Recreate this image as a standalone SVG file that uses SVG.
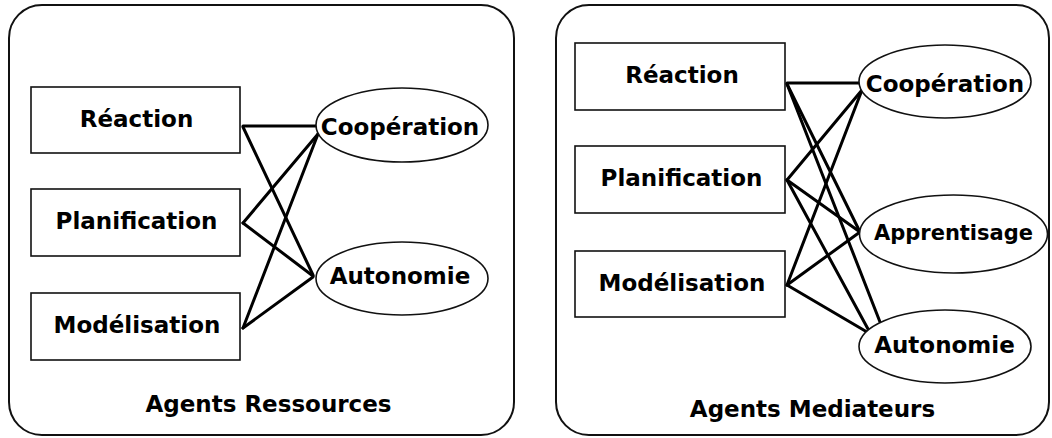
<svg xmlns="http://www.w3.org/2000/svg" width="1052" height="438" viewBox="0 0 1052 438">
<style>
.panel{fill:#fff;stroke:#111;stroke-width:2}
.box{fill:#fff;stroke:#111;stroke-width:1.6}
.ell{fill:#fff;stroke:#111;stroke-width:1.6}
.t{font-family:"DejaVu Sans",sans-serif;font-weight:bold;font-size:23px;fill:#000;text-anchor:middle}
.ts{font-size:21px}
.c line{stroke:#000;stroke-width:3;stroke-linecap:round}
</style>
<rect width="1052" height="438" fill="#fff"/>
<g id="panel-ressources"><rect class="panel" x="9" y="5" width="505" height="430" rx="33" ry="33"/><text class="t" x="268.5" y="412">Agents Ressources</text></g>
<g id="panel-mediateurs"><rect class="panel" x="556" y="5" width="493" height="430" rx="33" ry="33"/><text class="t" x="812.5" y="417">Agents Mediateurs</text></g>
<g class="c" id="connectors">
<line x1="243" y1="126" x2="317" y2="126"/>
<line x1="243" y1="127" x2="313" y2="275"/>
<line x1="243" y1="223" x2="318" y2="134"/>
<line x1="243" y1="223" x2="313" y2="276"/>
<line x1="243" y1="328" x2="318" y2="134"/>
<line x1="243" y1="328" x2="313" y2="277"/>
<line x1="787" y1="83" x2="862" y2="83"/>
<line x1="787" y1="84" x2="860" y2="232"/>
<line x1="787" y1="84" x2="880" y2="322"/>
<line x1="787" y1="180" x2="862" y2="90"/>
<line x1="787" y1="180" x2="860" y2="232"/>
<line x1="787" y1="180" x2="868" y2="329"/>
<line x1="787" y1="285" x2="862" y2="90"/>
<line x1="787" y1="285" x2="860" y2="232"/>
<line x1="787" y1="285" x2="867" y2="332"/>
</g>
<g id="l-reaction"><rect class="box" x="31" y="87" width="209" height="66"/><text class="t" x="136.5" y="127">Réaction</text></g>
<g id="l-planification"><rect class="box" x="31" y="189" width="209" height="67"/><text class="t" x="136.5" y="229">Planification</text></g>
<g id="l-modelisation"><rect class="box" x="31" y="293" width="209" height="67"/><text class="t" x="137" y="333">Modélisation</text></g>
<g id="l-cooperation"><ellipse class="ell" cx="402" cy="125" rx="86" ry="37"/><text class="t" x="400" y="135">Coopération</text></g>
<g id="l-autonomie"><ellipse class="ell" cx="402" cy="278.5" rx="86" ry="36.5"/><text class="t" x="400" y="284">Autonomie</text></g>
<g id="r-reaction"><rect class="box" x="575" y="43" width="210" height="67"/><text class="t" x="682" y="83">Réaction</text></g>
<g id="r-planification"><rect class="box" x="575" y="146" width="210" height="67"/><text class="t" x="681.5" y="186">Planification</text></g>
<g id="r-modelisation"><rect class="box" x="575" y="251" width="210" height="66"/><text class="t" x="682" y="291">Modélisation</text></g>
<g id="r-cooperation"><ellipse class="ell" cx="945" cy="81.5" rx="86" ry="36.5"/><text class="t" x="945" y="92">Coopération</text></g>
<g id="r-apprentisage"><ellipse class="ell" cx="953.5" cy="234" rx="94" ry="39"/><text class="t ts" x="953.5" y="240">Apprentisage</text></g>
<g id="r-autonomie"><ellipse class="ell" cx="945" cy="346.5" rx="86" ry="36.5"/><text class="t" x="944.5" y="353">Autonomie</text></g>
</svg>
